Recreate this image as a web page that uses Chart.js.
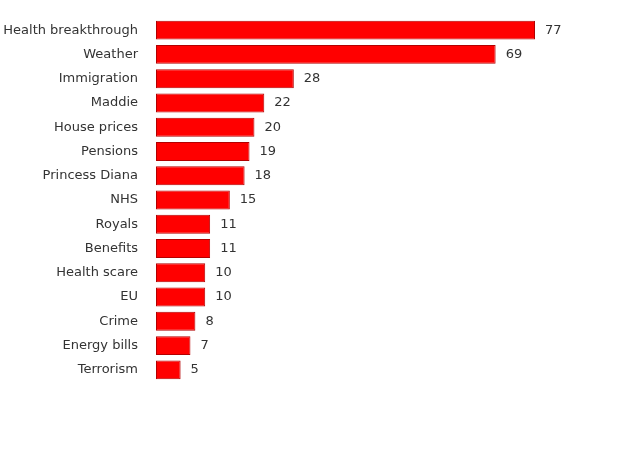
<!DOCTYPE html>
<html><head><meta charset="utf-8">
<script src="https://cdn.jsdelivr.net/npm/chart.js@4"></script>
<style>html,body{margin:0;padding:0;background:#fff}#w{width:625px;height:458px}</style>
</head><body><div id="w"><canvas id="c"></canvas></div>
<script>
const categories = ["Health breakthrough","Weather","Immigration","Maddie","House prices","Pensions","Princess Diana","NHS","Royals","Benefits","Health scare","EU","Crime","Energy bills","Terrorism"];
const values = [77,69,28,22,20,19,18,15,11,11,10,10,8,7,5];

const valueLabels = {
  id:'valueLabels',
  afterDatasetsDraw(chart){
    const ctx=chart.ctx, meta=chart.getDatasetMeta(0);
    ctx.save();
    ctx.font='13px "DejaVu Sans"';
    ctx.fillStyle='#333';
    ctx.textAlign='left';ctx.textBaseline='middle';
    meta.data.forEach((b,i)=>{ctx.fillText(String(values[i]), b.x+10, b.y);});
    ctx.restore();
  }
};
new Chart(document.getElementById('c'),{
  type:'bar',
  data:{labels:categories,datasets:[{data:values,backgroundColor:'#ff0000',borderColor:'#b30000',borderWidth:1,borderSkipped:false,categoryPercentage:1,barPercentage:0.78}]},
  options:{
    indexAxis:'y',responsive:true,maintainAspectRatio:false,animation:false,
    layout:{padding:{top:18,bottom:76,right:26,left:0}},
    plugins:{legend:{display:false},tooltip:{enabled:false}},
    scales:{
      x:{display:false,min:0,max:90},
      y:{grid:{display:false},border:{display:false},
         ticks:{color:'#333',font:{family:'DejaVu Sans',size:13},padding:10},
         afterFit(s){s.width=156;}}
    }
  },
  plugins:[valueLabels]
});
</script></body></html>
